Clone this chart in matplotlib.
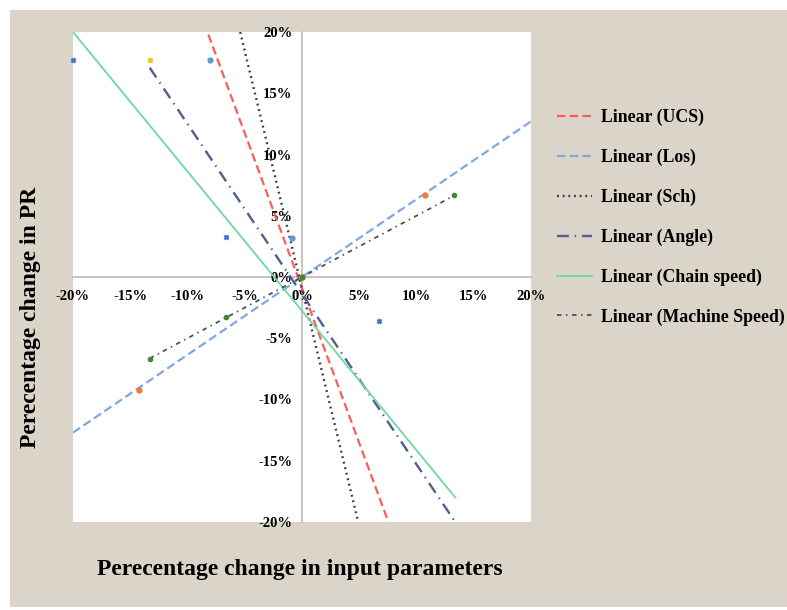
import matplotlib
matplotlib.use("Agg")
import matplotlib.pyplot as plt
import numpy as np
from matplotlib.patches import Rectangle
from matplotlib.ticker import PercentFormatter, MultipleLocator

plt.rcParams["font.family"] = ["Liberation Serif", "DejaVu Serif"]
plt.rcParams["font.weight"] = "bold"
plt.rcParams["axes.unicode_minus"] = False

# scatter points (percent change in input, percent change in PR)
ucs_x = [-8.0, -0.9, 0.0]
ucs_y = [17.7, 3.2, 0.0]
los_x = [-14.2, 0.0, 10.7]
los_y = [-9.2, 0.0, 6.7]
angle_x = [-13.3, 0.0]
angle_y = [17.7, 0.0]
chain_x = [-20.0, -6.6, 0.0, 6.7]
chain_y = [17.7, 3.3, 0.0, -3.6]
machine_x = [-13.3, -6.6, 0.0, 13.3]
machine_y = [-6.7, -3.3, 0.0, 6.7]

# linear trend lines
trend_names = ["Linear (UCS)", "Linear (Los)", "Linear (Sch)", "Linear (Angle)",
               "Linear (Chain speed)", "Linear (Machine Speed)"]
trend_slope = [-2.53, 0.635, -3.88, -1.39, -1.138, 0.5]
trend_icpt = [-0.9, 0.0, -0.95, -1.4, -2.76, 0.0]
trend_from = [-20, -20, -20, -13.3, -20, -13.3]
trend_to = [20, 20, 20, 13.3, 13.4, 13.3]
trend_colors = ["#FF5B5B", "#7FA7E3", "#3F3F3F", "#4F5F8F", "#6ED8A2", "#505050"]
trend_styles = [(0, (3.8, 1.9)), (0, (3.8, 1.9)), (0, (0.8, 1.6)),
                (0, (5, 2.5, 0.6, 2.5)), "-", (0, (2.5, 2.5, 0.8, 2.5))]
trend_widths = [1.6, 1.6, 1.7, 1.7, 1.3, 1.3]

fig = plt.figure(figsize=(7.87, 6.10), dpi=100)
fig.patch.set_facecolor("white")
fig.patches.append(Rectangle((10 / 787, 3 / 610), 1, 1 - 13 / 610,
                             transform=fig.transFigure, facecolor="#DBD4C8",
                             edgecolor="none", zorder=-10))

ax = fig.add_axes([73 / 787, 1 - 522 / 610, 458 / 787, 490 / 610])
ax.set_facecolor("white")

for i in range(len(trend_names)):
    xs = np.array([trend_from[i], trend_to[i]])
    ax.plot(xs, trend_slope[i] * xs + trend_icpt[i], color=trend_colors[i],
            linestyle=trend_styles[i], lw=trend_widths[i], label=trend_names[i],
            zorder=2)

ax.plot(ucs_x, ucs_y, "o", color="#5B9BD5", ms=3.5, zorder=3, clip_on=False)
ax.plot(los_x, los_y, "o", color="#ED7D31", ms=3.5, zorder=3, clip_on=False)
ax.plot(angle_x, angle_y, "x", color="#FFC000", ms=3.5, mew=1.8, zorder=3, clip_on=False)
ax.plot(chain_x, chain_y, "x", color="#4472C4", ms=3.5, mew=1.8, zorder=3, clip_on=False)
ax.plot(machine_x, machine_y, "o", color="#3F8A2A", ms=3, zorder=3, clip_on=False)

ax.set_xlim(-20, 20)
ax.set_ylim(-20, 20)
ax.xaxis.set_major_locator(MultipleLocator(5))
ax.yaxis.set_major_locator(MultipleLocator(5))
ax.xaxis.set_major_formatter(PercentFormatter(decimals=0))
ax.yaxis.set_major_formatter(PercentFormatter(decimals=0))

for side in ["top", "right"]:
    ax.spines[side].set_visible(False)
for side in ["left", "bottom"]:
    ax.spines[side].set_position("zero")
    ax.spines[side].set_color("#BFBFBF")
    ax.spines[side].set_linewidth(1.3)
    ax.spines[side].set_zorder(1)
ax.tick_params(axis="both", length=0, labelsize=10.5)
ax.tick_params(axis="x", pad=9)
ax.tick_params(axis="y", pad=7)
for lab in ax.get_xticklabels() + ax.get_yticklabels():
    lab.set_fontweight("bold")

fig.text(300 / 787, 1 - 569 / 610, "Perecentage change in input parameters",
         ha="center", va="center", fontsize=17, fontweight="bold")
fig.text(31 / 787, 1 - 317 / 610, "Perecentage change in PR", rotation=90,
         ha="center", va="center", fontsize=17, fontweight="bold")

fig.legend(loc="upper left", bbox_to_anchor=(557 / 787, 1 - 109 / 610),
           frameon=False, handlelength=1.95, handletextpad=0.5,
           labelspacing=1.27, borderpad=0, borderaxespad=0,
           prop={"weight": "bold", "size": 12.8})

fig.savefig("out.png", dpi=100, facecolor=fig.get_facecolor())
